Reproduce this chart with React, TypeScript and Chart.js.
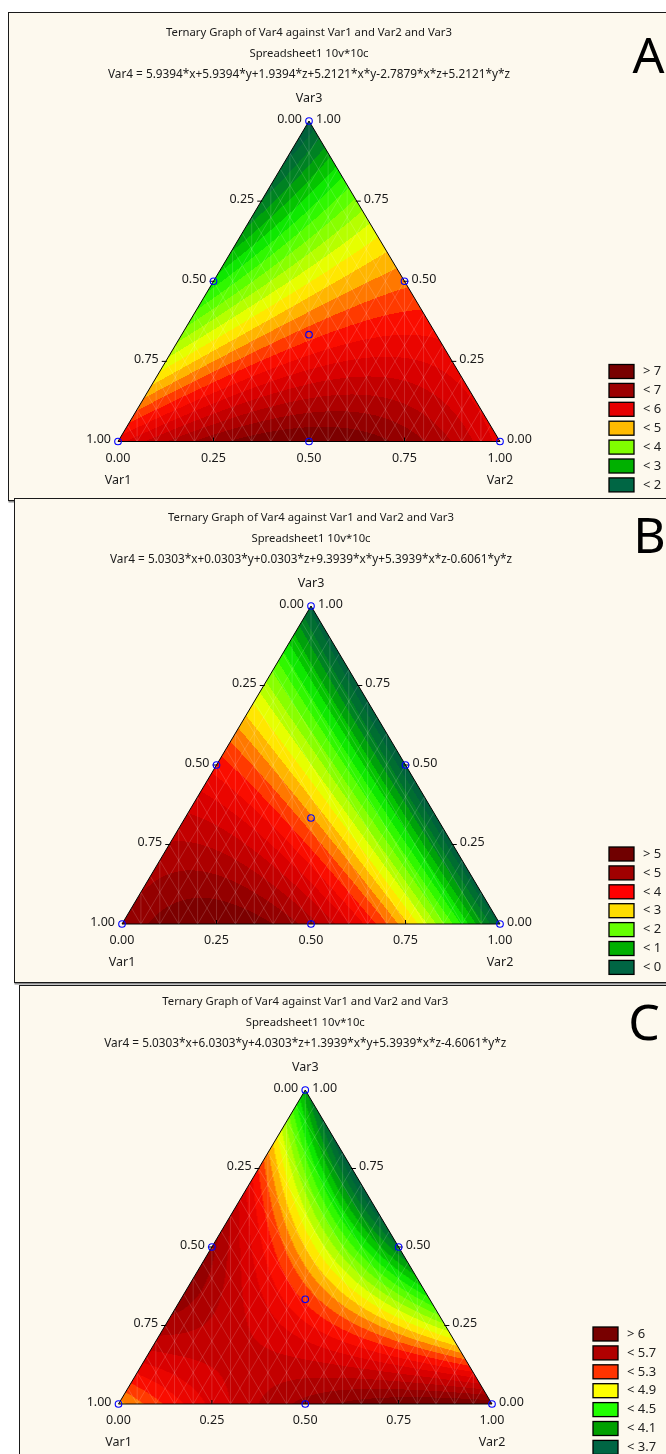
import React, { useEffect, useRef } from "react";
import { Chart, registerables } from "chart.js";

Chart.register(...registerables);

// ---------- DATA ----------
// design points (Var1, Var2, Var3)
const pointVar1 = [1, 0, 0, 0.5, 0.5, 0, 1 / 3];
const pointVar2 = [0, 1, 0, 0.5, 0, 0.5, 1 / 3];
const pointVar3 = [0, 0, 1, 0, 0.5, 0.5, 1 / 3];

const titleLine1 = "Ternary Graph of Var4 against Var1 and Var2 and Var3";
const titleLine2 = "Spreadsheet1 10v*10c";

const formulaA = "Var4 = 5.9394*x+5.9394*y+1.9394*z+5.2121*x*y-2.7879*x*z+5.2121*y*z";
const formulaB = "Var4 = 5.0303*x+0.0303*y+0.0303*z+9.3939*x*y+5.3939*x*z-0.6061*y*z";
const formulaC = "Var4 = 5.0303*x+6.0303*y+4.0303*z+1.3939*x*y+5.3939*x*z-4.6061*y*z";

// coefficients: [x, y, z, x*y, x*z, y*z]
const coefA = [5.9394, 5.9394, 1.9394, 5.2121, -2.7879, 5.2121];
const coefB = [5.0303, 0.0303, 0.0303, 9.3939, 5.3939, -0.6061];
const coefC = [5.0303, 6.0303, 4.0303, 1.3939, 5.3939, -4.6061];

const legendLabelsA = ["> 7", "< 7", "< 6", "< 5", "< 4", "< 3", "< 2"];
const legendColorsA = ["#780000", "#9c0000", "#e60000", "#ffbb00", "#80ff00", "#00b000", "#006644"];
const legendLabelsB = ["> 5", "< 5", "< 4", "< 3", "< 2", "< 1", "< 0"];
const legendColorsB = ["#700000", "#a00000", "#ff0000", "#ffdd00", "#66ff00", "#00b000", "#006644"];
const legendLabelsC = ["> 6", "< 5.7", "< 5.3", "< 4.9", "< 4.5", "< 4.1", "< 3.7"];
const legendColorsC = ["#780000", "#b00000", "#ff3300", "#ffff00", "#22ff00", "#00a000", "#006644"];

const tickValues = [0, 0.25, 0.5, 0.75, 1];
const tickLabels = ["0.00", "0.25", "0.50", "0.75", "1.00"];
const axisNames = ["Var1", "Var2", "Var3"];
const panelLetters = ["A", "B", "C"];

const spectrumStops = [0, 0.1, 0.18, 0.26, 0.33, 0.45, 0.5, 0.56, 0.62, 0.69, 0.78, 0.88, 1];
const spectrumColors = ["#005a40", "#00782a", "#00b000", "#10f000", "#50ff00", "#c8ff00", "#ffff00", "#ffc000", "#ff7000", "#ff1000", "#e00000", "#b00000", "#700000"];
const bandCount = 22;

// ---------- LAYOUT ----------
type Box = { left: number; top: number; height: number };
type Tri = { left: number; right: number; top: number; bottom: number };
type PanelCfg = {
  letter: string;
  formula: string;
  coef: number[];
  legendLabels: string[];
  legendColors: string[];
  box: Box;
  tri: Tri;
  legendX: number;
  letterX: number;
  letterY: number;
};

const PAGE_W = 666;
const PAGE_H = 1454;
const FONT = "'Noto Sans', 'DejaVu Sans', sans-serif";

const panels: PanelCfg[] = [
  {
    letter: panelLetters[0], formula: formulaA, coef: coefA,
    legendLabels: legendLabelsA, legendColors: legendColorsA,
    box: { left: 8, top: 12, height: 489 },
    tri: { left: 118, right: 500, top: 121, bottom: 441.5 },
    legendX: 609, letterX: 648.5, letterY: 73,
  },
  {
    letter: panelLetters[1], formula: formulaB, coef: coefB,
    legendLabels: legendLabelsB, legendColors: legendColorsB,
    box: { left: 14, top: 498, height: 485 },
    tri: { left: 122, right: 500, top: 606, bottom: 924 },
    legendX: 609, letterX: 649.5, letterY: 553,
  },
  {
    letter: panelLetters[2], formula: formulaC, coef: coefC,
    legendLabels: legendLabelsC, legendColors: legendColorsC,
    box: { left: 19, top: 985, height: 500 },
    tri: { left: 118.5, right: 492, top: 1090, bottom: 1404 },
    legendX: 593, letterX: 644, letterY: 1040,
  },
];

// ---------- HELPERS ----------
function hexToRgb(h: string): number[] {
  const s = h.replace("#", "");
  return [parseInt(s.slice(0, 2), 16), parseInt(s.slice(2, 4), 16), parseInt(s.slice(4, 6), 16)];
}
const spectrumRgb = spectrumColors.map(hexToRgb);
function spectrum(t: number): number[] {
  t = Math.max(0, Math.min(1, t));
  for (let i = 1; i < spectrumStops.length; i++) {
    if (t <= spectrumStops[i]) {
      const a = spectrumStops[i - 1], b = spectrumStops[i];
      const f = (t - a) / (b - a || 1);
      const c0 = spectrumRgb[i - 1], c1 = spectrumRgb[i];
      return [0, 1, 2].map((k) => Math.round(c0[k] + (c1[k] - c0[k]) * f));
    }
  }
  return spectrumRgb[spectrumRgb.length - 1];
}
function evalSurface(c: number[], x: number, y: number, z: number) {
  return c[0] * x + c[1] * y + c[2] * z + c[3] * x * y + c[4] * x * z + c[5] * y * z;
}

function makePlugin(cfg: PanelCfg, originX: number, originY: number) {
  return {
    id: "ternary" + cfg.letter,
    beforeDatasetsDraw(chart: any) {
      const { ctx, chartArea, scales } = chart;
      const xs = scales.x, ys = scales.y;
      const P = (a: number, b: number, c: number): [number, number] => [
        xs.getPixelForValue(b + c / 2),
        ys.getPixelForValue(c),
      ];
      // range of surface
      let vmin = Infinity, vmax = -Infinity;
      const n = 200;
      for (let i = 0; i <= n; i++) {
        for (let j = 0; j <= n - i; j++) {
          const a = i / n, b = j / n, c = 1 - a - b;
          const v = evalSurface(cfg.coef, a, b, c);
          if (v < vmin) vmin = v;
          if (v > vmax) vmax = v;
        }
      }
      const bandColors: number[][] = [];
      for (let k = 0; k < bandCount; k++) bandColors.push(spectrum((k + 0.5) / bandCount));

      const dpr = chart.currentDevicePixelRatio || 1;
      const aw = chartArea.right - chartArea.left;
      const ah = chartArea.bottom - chartArea.top;
      const w = Math.ceil(aw * dpr), h = Math.ceil(ah * dpr);
      const off = document.createElement("canvas");
      off.width = w; off.height = h;
      const octx = off.getContext("2d")!;
      const img = octx.createImageData(w, h);
      const tol = 0.02;
      for (let j = 0; j < h; j++) {
        const py = chartArea.top + (j + 0.5) / dpr;
        const Y = ys.getValueForPixel(py);
        for (let i = 0; i < w; i++) {
          const px = chartArea.left + (i + 0.5) / dpr;
          const X = xs.getValueForPixel(px);
          let z = Y, y = X - Y / 2, x = 1 - y - z;
          if (x < -tol || y < -tol || z < -tol) continue;
          x = Math.max(0, x); y = Math.max(0, y); z = Math.max(0, z);
          const s = x + y + z; x /= s; y /= s; z /= s;
          const v = evalSurface(cfg.coef, x, y, z);
          let k = Math.floor(((v - vmin) / (vmax - vmin)) * bandCount);
          k = Math.max(0, Math.min(bandCount - 1, k));
          const col = bandColors[k];
          const idx = (j * w + i) * 4;
          img.data[idx] = col[0]; img.data[idx + 1] = col[1]; img.data[idx + 2] = col[2]; img.data[idx + 3] = 255;
        }
      }
      octx.putImageData(img, 0, 0);

      const A = P(1, 0, 0), B = P(0, 1, 0), C = P(0, 0, 1);
      ctx.save();
      ctx.beginPath();
      ctx.moveTo(A[0], A[1]); ctx.lineTo(B[0], B[1]); ctx.lineTo(C[0], C[1]); ctx.closePath();
      ctx.clip();
      ctx.drawImage(off, chartArea.left, chartArea.top, w / dpr, h / dpr);
      // mesh
      ctx.strokeStyle = "rgba(255,255,255,0.22)";
      ctx.lineWidth = 0.7;
      ctx.beginPath();
      const m = 20;
      for (let k = 1; k < m; k++) {
        const f = k / m;
        let p = P(1 - f, f, 0), q = P(0, f, 1 - f);
        ctx.moveTo(p[0], p[1]); ctx.lineTo(q[0], q[1]);
        p = P(f, 1 - f, 0); q = P(f, 0, 1 - f);
        ctx.moveTo(p[0], p[1]); ctx.lineTo(q[0], q[1]);
        const X = f;
        const topY = X <= 0.5 ? 2 * X : 2 * (1 - X);
        ctx.moveTo(xs.getPixelForValue(X), ys.getPixelForValue(0));
        ctx.lineTo(xs.getPixelForValue(X), ys.getPixelForValue(topY));
      }
      ctx.stroke();
      ctx.restore();

      // outline
      ctx.save();
      ctx.strokeStyle = "#000";
      ctx.lineWidth = 1;
      ctx.beginPath();
      ctx.moveTo(A[0], A[1]); ctx.lineTo(B[0], B[1]); ctx.lineTo(C[0], C[1]); ctx.closePath();
      ctx.stroke();
      // ticks
      ctx.beginPath();
      for (const t of tickValues) {
        if (t === 0 || t === 1) continue;
        let p = P(t, 0, 1 - t); // left edge
        ctx.moveTo(p[0] - 4, p[1]); ctx.lineTo(p[0] + 1, p[1]);
        p = P(0, 1 - t, t); // right edge
        ctx.moveTo(p[0] - 1, p[1]); ctx.lineTo(p[0] + 4, p[1]);
        p = P(1 - t, t, 0); // bottom
        ctx.moveTo(p[0], p[1]); ctx.lineTo(p[0], p[1] - 4);
      }
      ctx.stroke();

      // labels
      ctx.fillStyle = "#1a1a1a";
      ctx.font = `12.5px ${FONT}`;
      ctx.textBaseline = "middle";
      tickValues.forEach((t, i) => {
        let p = P(1 - t, t, 0);
        ctx.textAlign = "center";
        ctx.fillText(tickLabels[i], p[0], p[1] + 16.5);
        p = P(t, 0, 1 - t);
        ctx.textAlign = "right";
        ctx.fillText(tickLabels[i], p[0] - 7, p[1] - 2);
        p = P(0, 1 - t, t);
        ctx.textAlign = "left";
        ctx.fillText(tickLabels[i], p[0] + 7, p[1] - 2);
      });
      ctx.textAlign = "center";
      ctx.fillText(axisNames[0], A[0], A[1] + 38.5);
      ctx.fillText(axisNames[1], B[0], B[1] + 38.5);
      ctx.fillText(axisNames[2], C[0], C[1] - 23);

      // titles
      const cx = (A[0] + B[0]) / 2;
      ctx.font = `11.3px ${FONT}`;
      ctx.fillText(titleLine1, cx, C[1] - 88);
      ctx.fillText(titleLine2, cx, C[1] - 67);
      ctx.font = `11.8px ${FONT}`;
      ctx.fillText(cfg.formula, cx, C[1] - 46);

      // legend
      ctx.font = `13px ${FONT}`;
      ctx.textAlign = "left";
      const lx = cfg.legendX - originX;
      cfg.legendLabels.forEach((lab, i) => {
        const ry = A[1] - 70 + i * 18.9;
        ctx.fillStyle = cfg.legendColors[i];
        ctx.fillRect(lx, ry - 7, 25, 14);
        ctx.strokeStyle = "#000";
        ctx.lineWidth = 1.3;
        ctx.strokeRect(lx, ry - 7, 25, 14);
        ctx.fillStyle = "#222";
        ctx.fillText(lab, lx + 34, ry);
      });

      // panel letter
      ctx.font = `50px ${FONT}`;
      ctx.textAlign = "center";
      ctx.textBaseline = "alphabetic";
      ctx.fillStyle = "#000";
      ctx.fillText(cfg.letter, cfg.letterX - originX, cfg.letterY - originY);
      ctx.restore();
    },
  };
}

function Panel({ cfg }: { cfg: PanelCfg }) {
  const ref = useRef<HTMLCanvasElement>(null);
  const originX = cfg.box.left + 1;
  const originY = cfg.box.top + 1;
  const cw = PAGE_W - originX;
  const ch = cfg.box.height - 2;

  useEffect(() => {
    if (!ref.current) return;
    const pts = pointVar1.map((_, i) => ({ x: pointVar2[i] + pointVar3[i] / 2, y: pointVar3[i] }));
    const chart = new Chart(ref.current, {
      type: "scatter",
      data: {
        datasets: [
          {
            data: pts,
            pointRadius: 3.3,
            pointHoverRadius: 3.3,
            pointBorderColor: "#0000ff",
            pointBackgroundColor: "rgba(0,0,0,0)",
            pointBorderWidth: 1.1,
            clip: false as any,
          },
        ],
      },
      options: {
        animation: false,
        responsive: true,
        maintainAspectRatio: false,
        events: [],
        layout: {
          padding: {
            left: cfg.tri.left - originX,
            right: cw - (cfg.tri.right - originX),
            top: cfg.tri.top - originY,
            bottom: ch - (cfg.tri.bottom - originY),
          },
        },
        scales: {
          x: { type: "linear", min: 0, max: 1, display: false },
          y: { type: "linear", min: 0, max: 1, display: false },
        },
        plugins: {
          legend: { display: false },
          tooltip: { enabled: false },
          title: { display: false },
        },
      },
      plugins: [makePlugin(cfg, originX, originY)],
    });
    return () => chart.destroy();
  }, []);

  return (
    <div
      style={{
        position: "absolute",
        left: cfg.box.left,
        top: cfg.box.top,
        width: 720,
        height: cfg.box.height,
        boxSizing: "border-box",
        border: "1px solid #1a1a1a",
        boxShadow: "1px 1px 0 0.5px #8a8a8a",
        background: "#fdf9ee",
      }}
    >
      <div style={{ position: "absolute", left: 0, top: 0, width: cw, height: ch }}>
        <canvas ref={ref} />
      </div>
    </div>
  );
}

export default function App() {
  return (
    <div
      style={{
        position: "fixed",
        left: 0,
        top: 0,
        width: PAGE_W,
        height: PAGE_H,
        overflow: "hidden",
        background: "#ffffff",
      }}
    >
      {panels.map((p) => (
        <Panel key={p.letter} cfg={p} />
      ))}
    </div>
  );
}
